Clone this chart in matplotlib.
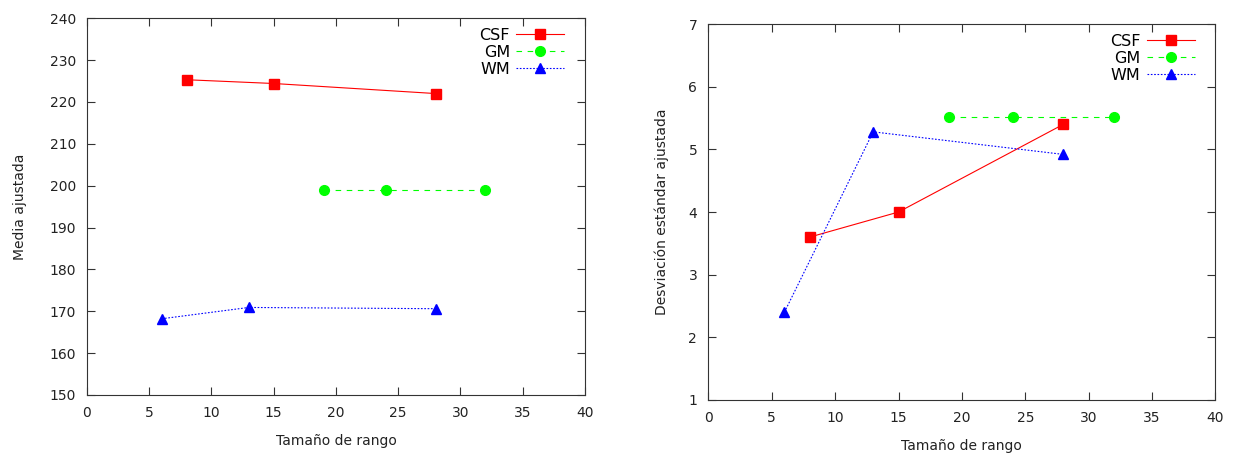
import matplotlib
matplotlib.use("Agg")
import matplotlib.pyplot as plt

# tamaño de rango por tejido
csf_x = [8, 15, 28]
gm_x = [19, 24, 32]
wm_x = [6, 13, 28]

# media ajustada
csf_mean = [225.3, 224.4, 222.0]
gm_mean = [199.0, 199.0, 199.0]
wm_mean = [168.2, 170.9, 170.6]

# desviación estándar ajustada
csf_std = [3.6, 4.0, 5.4]
gm_std = [5.52, 5.52, 5.52]
wm_std = [2.4, 5.28, 4.92]

plt.rcParams['font.family'] = ['DejaVu Sans']
plt.rcParams['font.size'] = 10

fig = plt.figure(figsize=(12.34, 4.55), dpi=100)
ax1 = fig.add_axes([0.0705, 0.132, 0.4035, 0.828])
ax2 = fig.add_axes([0.574, 0.121, 0.411, 0.826])


def draw(ax, ys, ylim, yticks, ylabel, ypad, xpad):
    csf, gm, wm = ys
    ax.plot(csf_x, csf, color='red', ls='-', lw=0.8, marker='s', ms=6.5, label='CSF')
    ax.plot(gm_x, gm, color='#00ff00', ls=(0, (5, 5)), lw=0.8, marker='o', ms=7, label='GM')
    ax.plot(wm_x, wm, color='blue', ls=(0, (1.5, 1.5)), lw=0.8, marker='^', ms=7, label='WM')
    ax.set_xlim(0, 40)
    ax.set_ylim(*ylim)
    ax.set_xticks(range(0, 41, 5))
    ax.set_yticks(yticks)
    ax.tick_params(direction='in', top=True, right=True, length=6, width=0.8,
                   color='#333333', labelcolor='#222222', pad=8)
    for s in ax.spines.values():
        s.set_color('#333333')
        s.set_linewidth(0.8)
    ax.set_xlabel('Tamaño de rango', labelpad=xpad, color='#222222')
    ax.set_ylabel(ylabel, labelpad=ypad, color='#222222')
    ax.legend(loc='upper right', bbox_to_anchor=(0.978, 1.0), frameon=False,
              markerfirst=False, handlelength=3.0, borderaxespad=0.2,
              labelspacing=0.12, handletextpad=0.4, fontsize=11.5)


draw(ax1, (csf_mean, gm_mean, wm_mean), (150, 240), range(150, 241, 10),
     'Media ajustada', 16, 10)
draw(ax2, (csf_std, gm_std, wm_std), (1, 7), range(1, 8),
     'Desviación estándar ajustada', 14, 10)

fig.savefig('out.png', dpi=100)
